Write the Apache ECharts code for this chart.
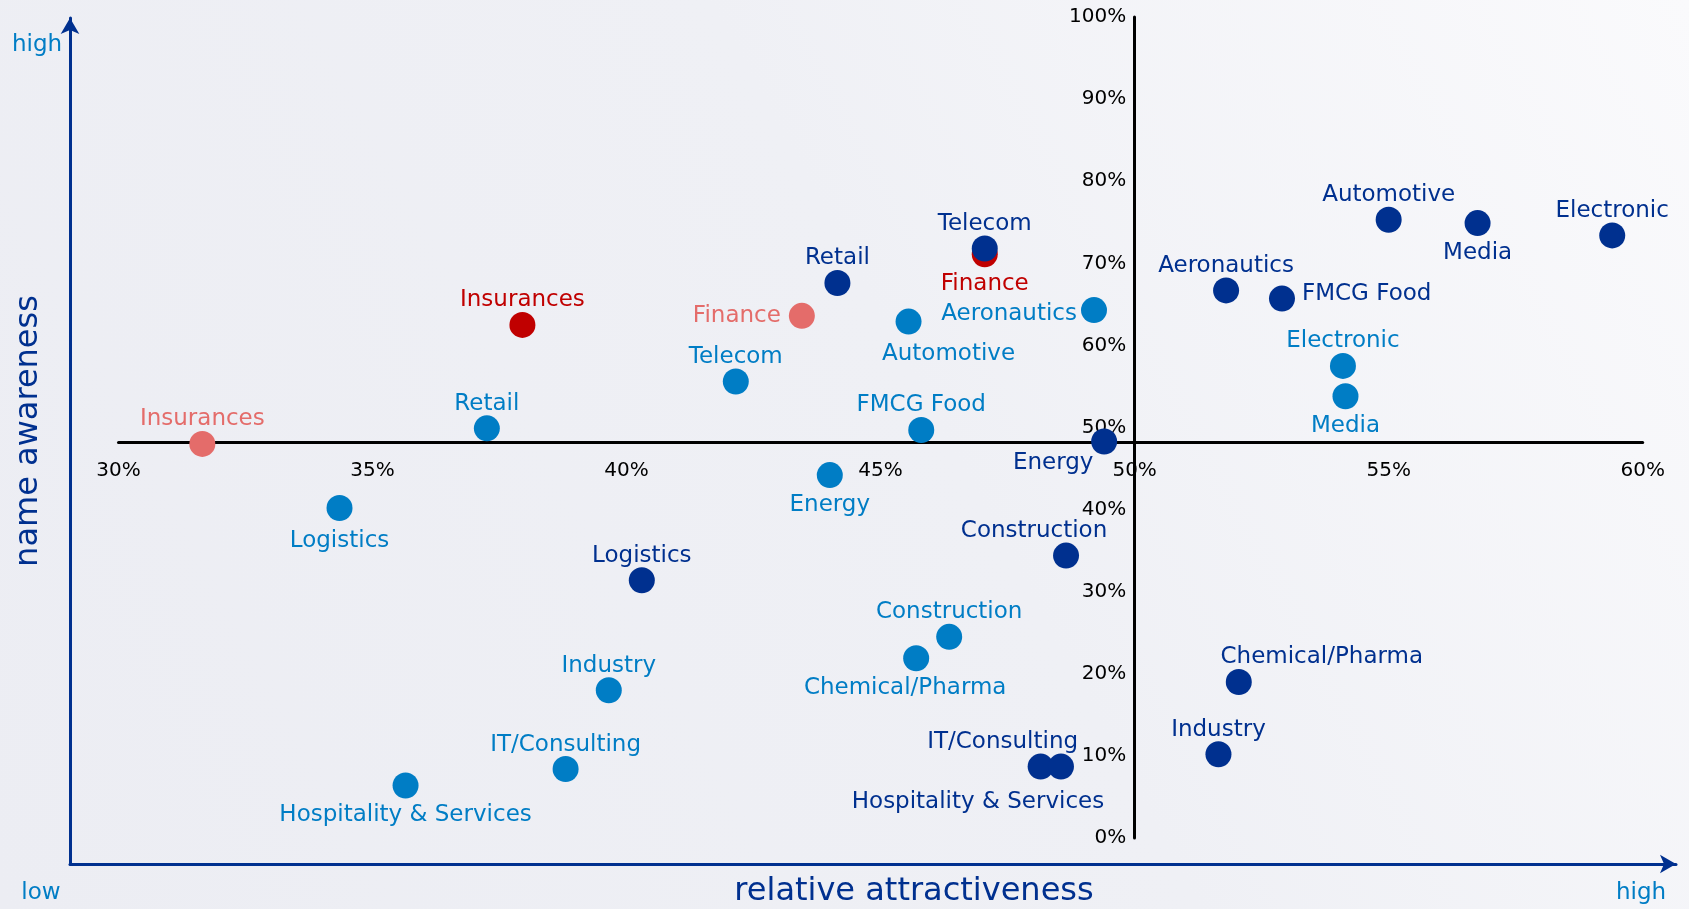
<!DOCTYPE html>
<html>
<head>
<meta charset="utf-8">
<title>Name awareness vs relative attractiveness</title>
<script src="https://cdn.jsdelivr.net/npm/echarts@6/dist/echarts.min.js"></script>
<style>
  html, body { margin: 0; padding: 0; }
  #chart { width: 1689px; height: 909px; }
</style>
</head>
<body>
<div id="chart"></div>
<script>
// axis ranges (percent)
const xRange = [30, 60]
const yRange = [0, 100]
const xStep = 5
const yStep = 10

// dark blue group
const darkNames = ['Automotive', 'Media', 'Electronic', 'Aeronautics', 'FMCG Food', 'Telecom', 'Retail',
  'Energy', 'Construction', 'Logistics', 'Chemical/Pharma', 'Industry', 'IT/Consulting', 'Hospitality & Services']
const darkX = [55.0, 56.75, 59.4, 51.8, 52.9, 47.05, 44.15, 49.4, 48.65, 40.3, 52.05, 51.65, 48.15, 48.55]
const darkY = [75.3, 74.9, 73.4, 66.7, 65.7, 71.8, 67.6, 48.3, 34.4, 31.4, 19.0, 10.2, 8.7, 8.7]

// light blue group
const lightNames = ['Aeronautics', 'Automotive', 'Telecom', 'Electronic', 'Media', 'FMCG Food', 'Retail',
  'Energy', 'Logistics', 'Construction', 'Chemical/Pharma', 'Industry', 'IT/Consulting', 'Hospitality & Services']
const lightX = [49.2, 45.55, 42.15, 54.1, 54.15, 45.8, 37.25, 44.0, 34.35, 46.35, 45.7, 39.65, 38.8, 35.65]
const lightY = [64.3, 62.9, 55.6, 57.5, 53.8, 49.7, 49.9, 44.2, 40.2, 24.5, 21.9, 18.0, 8.4, 6.4]

// red group
const redNames = ['Insurances', 'Finance']
const redX = [37.95, 47.05]
const redY = [62.5, 71.1]

// salmon group
const salmonNames = ['Insurances', 'Finance']
const salmonX = [31.65, 43.45]
const salmonY = [48.0, 63.6]

// label placement per point (default: top)
const darkLabelPos = {
  'Media': ['bottom'],
  'FMCG Food': ['right', [7, -5]],
  'Energy': ['bottom', [-51, -8]],
  'Construction': ['top', [-32, 0]],
  'Chemical/Pharma': ['top', [83, 0]],
  'IT/Consulting': ['top', [-38, 0]],
  'Hospitality & Services': ['bottom', [-83, 6]]
}
const lightLabelPos = {
  'Aeronautics': ['left', [-4, 4]],
  'Automotive': ['bottom', [40, 3]],
  'Media': ['bottom'],
  'Energy': ['bottom'],
  'Logistics': ['bottom', [0, 4]],
  'Chemical/Pharma': ['bottom', [-11, 0]],
  'Hospitality & Services': ['bottom']
}
const redLabelPos = { 'Finance': ['bottom'] }
const salmonLabelPos = { 'Finance': ['left', [-8, 0]] }

const FONT = '"DejaVu Sans", sans-serif'
const DARK = '#00308f'
const LIGHT = '#007dc5'

const makeSeries = (name, names, xs, ys, color, placement) => ({
  name,
  type: 'scatter',
  xAxisIndex: 0,
  yAxisIndex: 0,
  symbolSize: 26,
  itemStyle: { color, opacity: 1 },
  label: {
    show: true,
    formatter: '{b}',
    color,
    fontFamily: FONT,
    fontSize: 23
  },
  data: names.map((n, i) => {
    const p = placement[n] || ['top']
    return {
      name: n,
      value: [xs[i], ys[i]],
      label: {
        position: p[0],
        offset: p[1] || [0, 0],
        distance: p[0] === 'bottom' ? 5 : 0
      }
    }
  })
})

const chart = echarts.init(document.getElementById('chart'))

// outer arrow axes (no scale shown)
const arrowAxis = {
  type: 'value',
  gridIndex: 1,
  min: 0,
  max: 1,
  axisLabel: { show: false },
  axisTick: { show: false },
  splitLine: { show: false },
  axisLine: {
    onZero: false,
    symbol: ['none', 'arrow'],
    symbolSize: [14, 16],
    lineStyle: { color: DARK, width: 3 }
  }
}

const option = {
  animation: false,
  backgroundColor: new echarts.graphic.LinearGradient(0, 1, 1, 0, [
    { offset: 0, color: '#ecedf3' },
    { offset: 0.55, color: '#eff0f5' },
    { offset: 1, color: '#fafafc' }
  ]),
  grid: [
    { left: 118.5, right: 46.3, top: 17, bottom: 71 },
    { left: 70, right: 13, top: 18, bottom: 45 }
  ],
  xAxis: [
    {
      type: 'value',
      gridIndex: 0,
      min: xRange[0],
      max: xRange[1],
      interval: xStep,
      position: 'bottom',
      offset: -395.4,
      axisLine: { onZero: false, lineStyle: { color: '#000', width: 3 } },
      axisTick: { show: false },
      splitLine: { show: false },
      axisLabel: {
        formatter: '{value}%',
        color: '#000',
        fontFamily: FONT,
        fontSize: 20,
        margin: 18
      }
    },
    arrowAxis
  ],
  yAxis: [
    {
      type: 'value',
      gridIndex: 0,
      min: yRange[0],
      max: yRange[1],
      interval: yStep,
      position: 'left',
      offset: -1015.8,
      axisLine: { onZero: false, lineStyle: { color: '#000', width: 3 } },
      axisTick: { show: false },
      splitLine: { show: false },
      axisLabel: {
        formatter: '{value}%',
        color: '#000',
        fontFamily: FONT,
        fontSize: 20,
        margin: 8
      }
    },
    arrowAxis
  ],
  graphic: [
    {
      type: 'text', x: 914, y: 892,
      style: { text: 'relative attractiveness', fill: DARK, font: '32px ' + FONT, align: 'center', verticalAlign: 'middle' }
    },
    {
      type: 'text', x: 29, y: 431, rotation: Math.PI / 2,
      style: { text: 'name awareness', fill: DARK, font: '32px ' + FONT, align: 'center', verticalAlign: 'middle' }
    },
    { type: 'text', x: 37, y: 45, style: { text: 'high', fill: LIGHT, font: '23px ' + FONT, align: 'center', verticalAlign: 'middle' } },
    { type: 'text', x: 41, y: 893, style: { text: 'low', fill: LIGHT, font: '23px ' + FONT, align: 'center', verticalAlign: 'middle' } },
    { type: 'text', x: 1641, y: 893, style: { text: 'high', fill: LIGHT, font: '23px ' + FONT, align: 'center', verticalAlign: 'middle' } }
  ],
  series: [
    makeSeries('salmon', salmonNames, salmonX, salmonY, '#e46c6a', salmonLabelPos),
    makeSeries('light', lightNames, lightX, lightY, LIGHT, lightLabelPos),
    makeSeries('red', redNames, redX, redY, '#c00000', redLabelPos),
    makeSeries('dark', darkNames, darkX, darkY, DARK, darkLabelPos)
  ]
}

chart.setOption(option)
window.addEventListener('resize', () => chart.resize())
</script>
</body>
</html>
